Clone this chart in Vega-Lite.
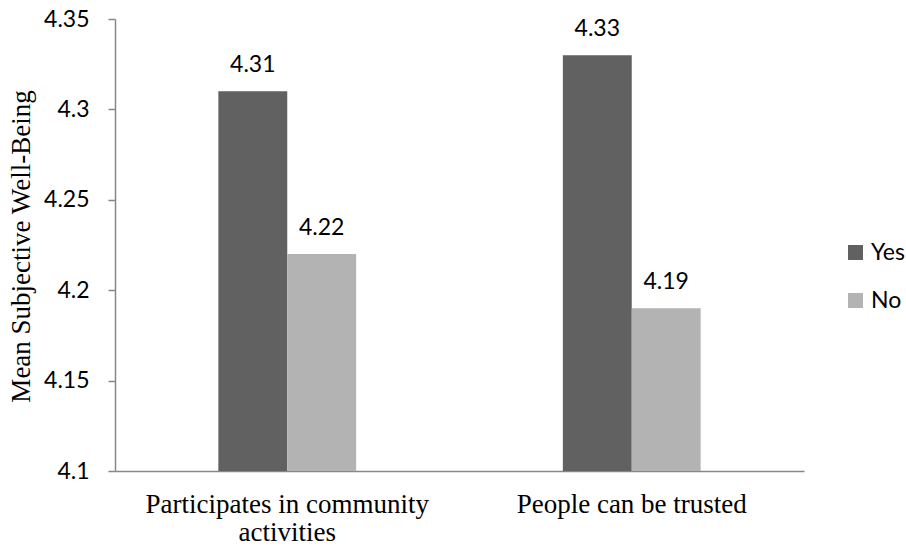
{
  "$schema": "https://vega.github.io/schema/vega-lite/v6.json",
  "width": 689,
  "height": 452,
  "autosize": {"type": "none"},
  "padding": {"left": 115, "top": 19, "right": 102, "bottom": 77},
  "background": "white",
  "config": {
    "view": {"stroke": null},
    "axis": {"grid": false}
  },
  "data": {
    "values": [
      {"category": "Participates in community activities", "group": "Yes", "value": 4.31},
      {"category": "Participates in community activities", "group": "No", "value": 4.22},
      {"category": "People can be trusted", "group": "Yes", "value": 4.33},
      {"category": "People can be trusted", "group": "No", "value": 4.19}
    ]
  },
  "encoding": {
    "x": {
      "field": "category",
      "type": "nominal",
      "sort": ["Participates in community activities", "People can be trusted"],
      "scale": {"paddingInner": 0.6, "paddingOuter": 0.3},
      "axis": {
        "title": null,
        "labelAngle": 0,
        "ticks": false,
        "domainColor": "#878787",
        "domainWidth": 1.5,
        "labelFont": "Liberation Serif",
        "labelFontSize": 27,
        "labelColor": "#000000",
        "labelBaseline": "alphabetic",
        "labelPadding": 41,
        "labelLineHeight": 28,
        "labelLimit": 0,
        "labelExpr": "datum.label == 'Participates in community activities' ? ['Participates in community', 'activities'] : datum.label"
      }
    },
    "xOffset": {
      "field": "group",
      "type": "nominal",
      "sort": ["Yes", "No"],
      "scale": {"paddingInner": 0, "paddingOuter": 0}
    },
    "y": {
      "field": "value",
      "type": "quantitative",
      "scale": {"domain": [4.1, 4.35], "zero": false, "nice": false},
      "axis": {
        "title": "Mean Subjective Well-Being",
        "titleFont": "Liberation Serif",
        "titleFontSize": 27,
        "titleFontWeight": "normal",
        "titleColor": "#000000",
        "titleAngle": -90,
        "titleBaseline": "alphabetic",
        "titleAlign": "center",
        "titleX": -86,
        "titleY": 227,
        "values": [4.1, 4.15, 4.2, 4.25, 4.3, 4.35],
        "format": "~g",
        "tickSize": 7,
        "tickColor": "#878787",
        "tickWidth": 1.5,
        "domainColor": "#878787",
        "domainWidth": 1.5,
        "labelFont": "Lato",
        "labelFontSize": 23,
        "labelColor": "#000000",
        "labelPadding": 19
      }
    }
  },
  "layer": [
    {
      "mark": {"type": "bar"},
      "encoding": {
        "y2": {"datum": 4.1},
        "color": {
          "field": "group",
          "type": "nominal",
          "sort": ["Yes", "No"],
          "scale": {"domain": ["Yes", "No"], "range": ["#616161", "#b3b3b3"]},
          "legend": {
            "title": null,
            "orient": "none",
            "legendX": 729,
            "legendY": 222,
            "symbolType": "square",
            "symbolSize": 225,
            "symbolStrokeWidth": 0,
            "labelFont": "Lato",
            "labelFontSize": 23,
            "labelColor": "#000000",
            "labelOffset": 4,
            "labelLimit": 0,
            "rowPadding": 24
          }
        }
      }
    },
    {
      "mark": {"type": "text", "baseline": "alphabetic", "dy": -19, "font": "Lato", "fontSize": 23, "color": "#000000"},
      "encoding": {
        "text": {"field": "value", "type": "quantitative", "format": ".2f"}
      }
    }
  ]
}
